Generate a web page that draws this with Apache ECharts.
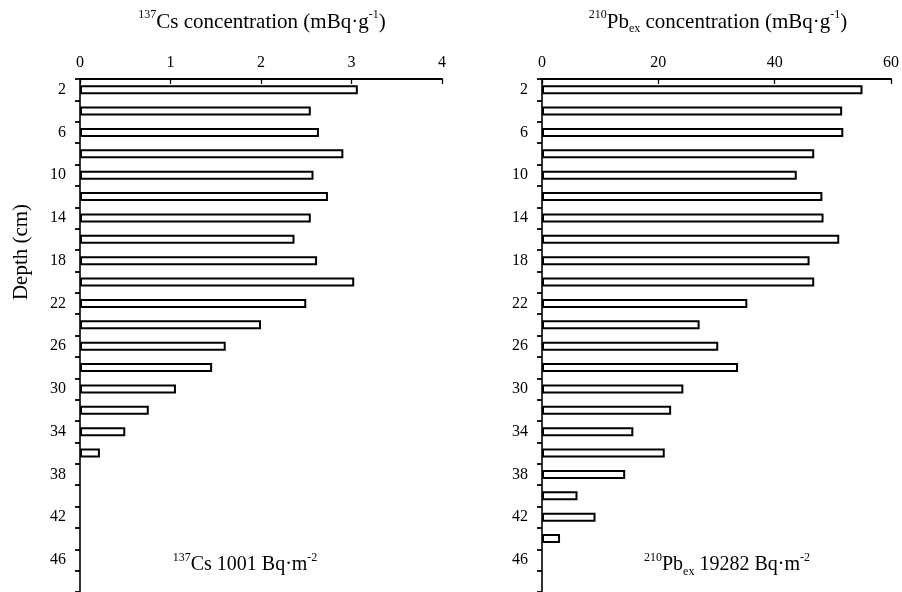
<!DOCTYPE html>
<html>
<head>
<meta charset="utf-8">
<script src="https://cdn.jsdelivr.net/npm/echarts@6/dist/echarts.min.js"></script>
<style>
    html, body { margin: 0; padding: 0; background: #fff; }
    #main { width: 902px; height: 592px; }
</style>
</head>
<body>
<div id="main"></div>
<script>
// depth categories (cm), one bar per 2 cm slice
const depths = ["2", "4", "6", "8", "10", "12", "14", "16", "18", "20", "22", "24",
    "26", "28", "30", "32", "34", "36", "38", "40", "42", "44", "46", "48"];

// 137Cs concentration (mBq/g)
const csValues = [3.07, 2.55, 2.64, 2.91, 2.58, 2.74, 2.55, 2.37, 2.62, 3.03, 2.5, 2.0,
    1.61, 1.46, 1.06, 0.76, 0.5, 0.22];

// 210Pb_ex concentration (mBq/g)
const pbValues = [55.1, 51.6, 51.8, 46.8, 43.8, 48.2, 48.4, 51.1, 46.0, 46.8, 35.3, 27.1,
    30.3, 33.7, 24.3, 22.2, 15.7, 21.1, 14.3, 6.1, 9.2, 3.1];

const FONT = "'Liberation Serif', 'Times New Roman', serif";

const chart = echarts.init(document.getElementById("main"));

function xAxisOf(gridIndex, max, interval) {
    return {
        type: "value",
        gridIndex: gridIndex,
        position: "top",
        min: 0,
        max: max,
        interval: interval,
        axisLine: { show: true, lineStyle: { color: "#000", width: 1.8 } },
        axisTick: { show: true, inside: true, length: 5, lineStyle: { color: "#000", width: 1.3 } },
        axisLabel: { color: "#000", fontFamily: FONT, fontSize: 16, margin: 8 },
        splitLine: { show: false },
    };
}

function yAxisOf(gridIndex) {
    return {
        type: "category",
        gridIndex: gridIndex,
        inverse: true,
        data: depths,
        boundaryGap: true,
        axisLine: { show: true, onZero: false, lineStyle: { color: "#000", width: 1.6 } },
        axisTick: { show: true, interval: 0, length: 5, lineStyle: { color: "#000", width: 1.8 } },
        axisLabel: { interval: 1, color: "#000", fontFamily: FONT, fontSize: 16, margin: 14 },
        splitLine: { show: false },
    };
}

const barStyle = {
    color: "#fff",
    borderColor: "#000",
    borderWidth: 2,
};

const rich = {
    b: { fontFamily: FONT, fontSize: 21, fontWeight: "normal", color: "#000", lineHeight: 26 },
    sup: { fontFamily: FONT, fontSize: 12, fontWeight: "normal", color: "#000", verticalAlign: "top", lineHeight: 16 },
    sub: { fontFamily: FONT, fontSize: 12, fontWeight: "normal", color: "#000", verticalAlign: "bottom", lineHeight: 14 },
    c: { fontFamily: FONT, fontSize: 20, fontWeight: "normal", color: "#000", lineHeight: 26 },
};

chart.setOption({
    animation: false,
    backgroundColor: "#fff",
    title: [
        {
            text: "{sup|137}{b|Cs concentration (mBq·g}{sup|-1}{b|)}",
            left: 262, top: 9, textAlign: "center", padding: 0,
            textStyle: { fontWeight: "normal", rich: rich },
        },
        {
            text: "{sup|210}{b|Pb}{sub|ex}{b| concentration (mBq·g}{sup|-1}{b|)}",
            left: 718, top: 9, textAlign: "center", padding: 0,
            textStyle: { fontWeight: "normal", rich: rich },
        },
        {
            text: "{sup|137}{c|Cs 1001 Bq·m}{sup|-2}",
            left: 245, top: 552, textAlign: "center", padding: 0,
            textStyle: { fontWeight: "normal", rich: rich },
        },
        {
            text: "{sup|210}{c|Pb}{sub|ex}{c| 19282 Bq·m}{sup|-2}",
            left: 727, top: 552, textAlign: "center", padding: 0,
            textStyle: { fontWeight: "normal", rich: rich },
        },
    ],
    graphic: [
        {
            type: "text",
            x: 21,
            y: 252,
            rotation: Math.PI / 2,
            style: {
                text: "Depth (cm)",
                font: "21px " + FONT,
                fill: "#000",
                align: "center",
                verticalAlign: "middle",
            },
        },
    ],
    grid: [
        { left: 80, top: 79, width: 362, height: 515 },
        { left: 542, top: 79, width: 351, height: 515 },
    ],
    xAxis: [xAxisOf(0, 4, 1), xAxisOf(1, 60, 20)],
    yAxis: [yAxisOf(0), yAxisOf(1)],
    series: [
        {
            name: "137Cs",
            type: "bar",
            xAxisIndex: 0,
            yAxisIndex: 0,
            barWidth: 9,
            itemStyle: barStyle,
            data: csValues,
        },
        {
            name: "210Pbex",
            type: "bar",
            xAxisIndex: 1,
            yAxisIndex: 1,
            barWidth: 9,
            itemStyle: barStyle,
            data: pbValues,
        },
    ],
});
</script>
</body>
</html>
